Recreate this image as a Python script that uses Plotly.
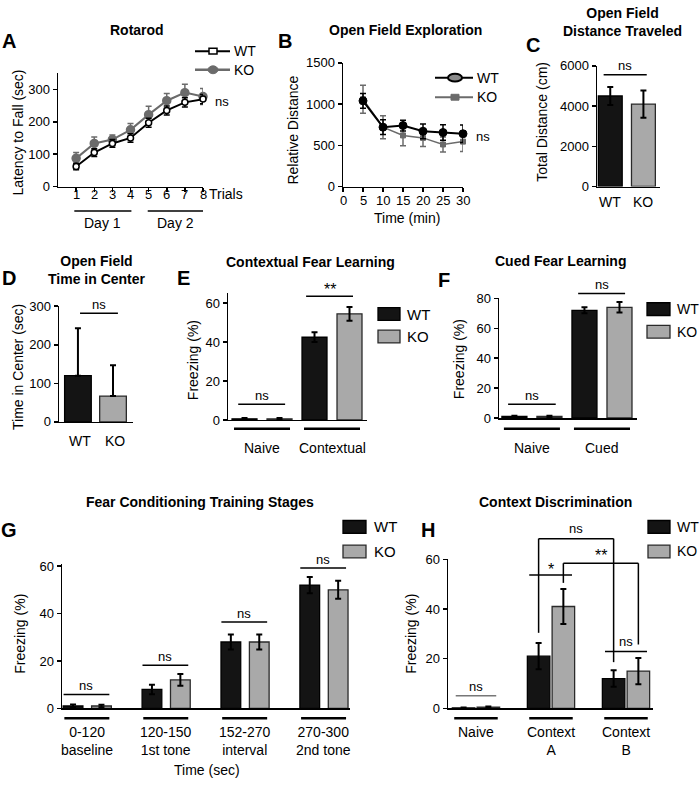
import plotly.graph_objects as go

W, H = 700, 787
FONT = "Liberation Sans, Arial, Helvetica, sans-serif"
WT_FILL = "#141414"
KO_FILL = "#a9a9a9"
KO_LINE = "#6b6b6b"

# ---------------- data ----------------
trials = [1, 2, 3, 4, 5, 6, 7, 8]
trial_labels = ["1", "2", "3", "4", "5", "6", "7", "8"]
rotarod_wt = [62, 105, 133, 150, 197, 235, 260, 270]
rotarod_wt_err = [10, 12, 12, 13, 14, 14, 14, 14]
rotarod_ko = [87, 133, 145, 175, 222, 265, 290, 278]
rotarod_ko_err = [18, 20, 14, 20, 26, 22, 26, 25]

of_minutes = [5, 10, 15, 20, 25, 30]
of_ticks = [0, 5, 10, 15, 20, 25, 30]
of_wt = [1040, 720, 740, 670, 655, 640]
of_wt_err = [90, 90, 65, 90, 95, 105]
of_ko = [1060, 720, 620, 590, 510, 545]
of_ko_err = [170, 140, 125, 105, 90, 120]

genotypes = ["WT", "KO"]
dist_mean = [4500, 4100]
dist_err = [450, 680]
center_mean = [120, 67]
center_err = [123, 80]

ctx_groups = ["Naive", "Contextual"]
ctx_wt = [0.6, 42.5]
ctx_wt_err = [0.4, 2.5]
ctx_ko = [0.6, 54.5]
ctx_ko_err = [0.4, 3.5]

cued_groups = ["Naive", "Cued"]
cued_wt = [1.0, 72]
cued_wt_err = [0.5, 2]
cued_ko = [1.0, 74]
cued_ko_err = [0.5, 3.5]

stage_groups = ["0-120<br>baseline", "120-150<br>1st tone", "152-270<br>interval", "270-300<br>2nd tone"]
stage_wt = [1, 8, 28, 52]
stage_wt_err = [0.6, 2, 3.2, 3.4]
stage_ko = [1, 12, 28, 50]
stage_ko_err = [0.5, 2.5, 3.2, 3.8]

disc_groups = ["Naive", "Context<br>A", "Context<br>B"]
disc_wt = [0.2, 21, 12]
disc_wt_err = [0.2, 5.3, 3.3]
disc_ko = [0.5, 41, 15]
disc_ko_err = [0.3, 7, 5.3]

# ---------------- geometry (pixels: left, right, top, bottom, xrange, yrange) ----------------
GEOM = {
    "A": (58, 203, 67.5, 183, [0, 8], [0, 350]),
    "B": (343, 463, 57, 183, [0, 30], [0, 1500]),
    "C": (597, 660, 60, 183, [-0.4, 1.5], [0, 6000]),
    "D": (59, 133, 305, 423, [-0.54, 1.57], [0, 300]),
    "E": (228, 367, 292, 421, [-0.486, 1.5], [0, 65]),
    "F": (499, 637, 297, 419, [-0.47, 1.5], [0, 80]),
    "G": (62, 350, 567.6, 715, [-0.32, 3.33], [0, 61]),
    "H": (448, 653, 563, 715, [-0.373, 2.36], [0, 60]),
}
IDS = {"A": "", "B": "2", "C": "3", "D": "4", "E": "5", "F": "6", "G": "7", "H": "8"}


def pxx(p, v):
    l, r, t, b, xr, yr = GEOM[p]
    return l + (v - xr[0]) / (xr[1] - xr[0]) * (r - l)


def pxy(p, v):
    l, r, t, b, xr, yr = GEOM[p]
    return b - (v - yr[0]) / (yr[1] - yr[0]) * (b - t)


fig = go.Figure()
shapes = []
annotations = []


def text(x, y, s, size=13, bold=False, angle=0, xanchor="center", yanchor="middle", color="black"):
    annotations.append(dict(
        x=x / W, y=1 - y / H, xref="paper", yref="paper",
        text=f"<b>{s}</b>" if bold else s, showarrow=False,
        font=dict(family=FONT, size=size, color=color),
        xanchor=xanchor, yanchor=yanchor, textangle=angle))


def seg(x0, y0, x1, y1, w=1.5, color="black"):
    shapes.append(dict(type="line", xref="paper", yref="paper",
                       x0=x0 / W, y0=1 - y0 / H, x1=x1 / W, y1=1 - y1 / H,
                       line=dict(color=color, width=w)))


def rect(x0, y0, x1, y1, fill, line="black", w=1.5):
    shapes.append(dict(type="rect", xref="paper", yref="paper",
                       x0=x0 / W, y0=1 - y0 / H, x1=x1 / W, y1=1 - y1 / H,
                       fillcolor=fill, line=dict(color=line, width=w)))


def circ(x0, y0, x1, y1, fill, line="black", w=1.5):
    shapes.append(dict(type="circle", xref="paper", yref="paper",
                       x0=x0 / W, y0=1 - y0 / H, x1=x1 / W, y1=1 - y1 / H,
                       fillcolor=fill, line=dict(color=line, width=w)))


def sig(p, x0, x1, y, s, color="black", size=13, off=9):
    X0, X1, Y = pxx(p, x0), pxx(p, x1), pxy(p, y)
    seg(X0, Y, X1, Y, 1.5, color)
    text((X0 + X1) / 2, Y - off, s, size=size)


def add_axes(p, xkw, ykw):
    l, r, t, b, xr, yr = GEOM[p]
    n = IDS[p]
    base = dict(showline=True, linecolor="black", linewidth=1.5, showgrid=False,
                zeroline=False, tickfont=dict(family=FONT, size=13, color="black"))
    xa = dict(base, domain=[l / W, r / W], range=xr, anchor="y" + n, fixedrange=True)
    xa.update(xkw)
    ya = dict(base, domain=[1 - b / H, 1 - t / H], range=yr, anchor="x" + n,
              ticks="outside", ticklen=4, tickwidth=1.5, tickcolor="black", fixedrange=True)
    ya.update(ykw)
    fig.update_layout(**{"xaxis" + n: xa, "yaxis" + n: ya})


def bar_pair(p, wt, wt_err, ko, ko_err, width, offset):
    n = IDS[p]
    idx = list(range(len(wt)))
    for vals, errs, sign, fill, lc in [(wt, wt_err, -1, WT_FILL, "black"), (ko, ko_err, 1, KO_FILL, "#2a2a2a")]:
        fig.add_trace(go.Bar(
            x=[i + sign * offset for i in idx], y=vals, width=width,
            marker=dict(color=fill, line=dict(color=lc, width=1.3)),
            error_y=dict(type="data", array=errs, color="black", thickness=2, width=3),
            xaxis="x" + n, yaxis="y" + n, showlegend=False))


# ---------------- Panel A: Rotarod ----------------
for vals, errs, col, mfill, msize in [
        (rotarod_ko, rotarod_ko_err, KO_LINE, KO_LINE, 8),
        (rotarod_wt, rotarod_wt_err, "black", "white", 6)]:
    fig.add_trace(go.Scatter(
        x=trials, y=vals, mode="lines+markers", cliponaxis=False,
        line=dict(color=col, width=2),
        marker=dict(symbol="circle", size=msize, color=mfill, line=dict(color=col, width=1.5)),
        error_y=dict(type="data", array=errs, color=col, thickness=1.5, width=3),
        xaxis="x", yaxis="y", showlegend=False))
add_axes("A",
         dict(tickvals=trials, showticklabels=False, ticks="outside", ticklen=4, tickwidth=1.5, tickcolor="black"),
         dict(tickvals=[0, 100, 200, 300]))
for t, lab in zip(trials, trial_labels):
    text(pxx("A", t), 191, lab, size=13)

# ---------------- Panel B: Open Field Exploration ----------------
for vals, errs, col, msym, msize, lw in [
        (of_ko, of_ko_err, KO_LINE, "square", 5, 1.5),
        (of_wt, of_wt_err, "black", "circle", 8, 2)]:
    fig.add_trace(go.Scatter(
        x=of_minutes, y=vals, mode="lines+markers", cliponaxis=False,
        line=dict(color=col, width=lw),
        marker=dict(symbol=msym, size=msize, color=col, line=dict(color=col, width=1)),
        error_y=dict(type="data", array=errs, color=col, thickness=1.5, width=3),
        xaxis="x2", yaxis="y2", showlegend=False))
add_axes("B",
         dict(tickvals=of_ticks, showticklabels=False, ticks="outside", ticklen=4, tickwidth=1.5, tickcolor="black"),
         dict(tickvals=[0, 500, 1000, 1500]))
for t in of_ticks:
    text(pxx("B", t), 197, str(t), size=13)

# ---------------- Panel C ----------------
fig.add_trace(go.Bar(x=[0, 1], y=dist_mean, width=0.72,
                     marker=dict(color=[WT_FILL, KO_FILL], line=dict(color=["black", "#2a2a2a"], width=1.3)),
                     error_y=dict(type="data", array=dist_err, color="black", thickness=2, width=3),
                     xaxis="x3", yaxis="y3", showlegend=False))
add_axes("C", dict(showticklabels=False, ticks=""), dict(tickvals=[0, 2000, 4000, 6000]))
for i, g in enumerate(genotypes):
    text(pxx("C", i), 199, g, size=14)

# ---------------- Panel D ----------------
fig.add_trace(go.Bar(x=[0, 1], y=center_mean, width=0.76,
                     marker=dict(color=[WT_FILL, KO_FILL], line=dict(color=["black", "#2a2a2a"], width=1.3)),
                     error_y=dict(type="data", symmetric=False, array=center_err, arrayminus=[0, 0],
                                  color="black", thickness=2, width=3),
                     xaxis="x4", yaxis="y4", showlegend=False))
add_axes("D", dict(showticklabels=False, ticks=""), dict(tickvals=[0, 100, 200, 300]))
for i, g in enumerate(genotypes):
    text(pxx("D", i) + 2, 442, g, size=14)

# ---------------- Panels E-H ----------------
bar_pair("E", ctx_wt, ctx_wt_err, ctx_ko, ctx_ko_err, 0.357, 0.25)
add_axes("E", dict(showticklabels=False, ticks=""), dict(tickvals=[0, 20, 40, 60]))
bar_pair("F", cued_wt, cued_wt_err, cued_ko, cued_ko_err, 0.357, 0.25)
add_axes("F", dict(showticklabels=False, ticks=""), dict(tickvals=[0, 20, 40, 60, 80]))
bar_pair("G", stage_wt, stage_wt_err, stage_ko, stage_ko_err, 0.25, 0.18)
add_axes("G", dict(showticklabels=False, ticks=""), dict(tickvals=[0, 20, 40, 60]))
bar_pair("H", disc_wt, disc_wt_err, disc_ko, disc_ko_err, 0.3, 0.165)
add_axes("H", dict(showticklabels=False, ticks=""), dict(tickvals=[0, 20, 40, 60]))

# ---------------- titles, letters, axis titles ----------------
for s, x, y in [("Rotarod", 137, 23), ("Open Field Exploration", 405, 23),
                ("Open Field<br>Distance Traveled", 622, 15), ("Open Field<br>Time in Center", 97, 268),
                ("Contextual Fear Learning", 310, 260), ("Cued Fear Learning", 560, 259),
                ("Fear Conditioning Training Stages", 200, 505), ("Context Discrimination", 555, 505)]:
    text(x, y, s, size=14, bold=True)
for s, x, y in [("A", 9, 35), ("B", 285, 35), ("C", 533, 39), ("D", 9, 276),
                ("E", 183, 276), ("F", 444, 278), ("G", 9, 533), ("H", 428, 533)]:
    text(x, y, s, size=20, bold=True)
for s, x, y in [("Latency to Fall (sec)", 18, 128), ("Relative Distance", 293, 126),
                ("Total Distance (cm)", 542, 117), ("Time in Center (sec)", 18, 367),
                ("Freezing (%)", 193, 360), ("Freezing (%)", 459, 359),
                ("Freezing (%)", 20, 639), ("Freezing (%)", 411, 639)]:
    text(x, y, s, size=14, angle=-90)
text(207, 191, "Trials", size=14, xanchor="left")
text(407, 215, "Time (min)", size=14)
text(207, 778, "Time (sec)", size=14)

# Day brackets in A
seg(pxx("A", 0.9), 208, pxx("A", 4.05), 208, 1.5)
seg(pxx("A", 4.95), 208, pxx("A", 8.0), 208, 1.5)
text((pxx("A", 0.9) + pxx("A", 4.05)) / 2, 220, "Day 1", size=14)
text((pxx("A", 4.95) + pxx("A", 8.0)) / 2, 220, "Day 2", size=14)
text(222, 96, "ns", size=13)
text(483, 132, "ns", size=13)

# ---------------- line legends ----------------
seg(195, 45, 230, 45, 2, "black")
rect(209, 42, 217, 48, "white", "black", 1.5)
seg(195, 64, 230, 64, 2.5, KO_LINE)
circ(208, 60, 218, 68, KO_LINE, KO_LINE, 1)
text(232, 45, "WT", size=14, xanchor="left")
text(232, 64, "KO", size=14, xanchor="left")

seg(435, 72, 473, 72, 2, "black")
circ(448, 68, 462, 76, "#8a8a8a", "black", 2)
seg(435, 92, 473, 92, 2, KO_LINE)
rect(451, 89, 459, 95, KO_LINE, KO_LINE, 1)
text(475, 72, "WT", size=14, xanchor="left")
text(475, 92, "KO", size=14, xanchor="left")

# ---------------- bar legends ----------------
for bx0, bx1, tx, yw, yk, fs in [(378, 400, 405, 313, 336, 15), (647, 670, 675, 308, 331, 14),
                                 (343, 366, 372, 530, 555, 15), (648, 670, 675, 530, 555, 14)]:
    rect(bx0, yw - 6.5, bx1, yw + 6.5, WT_FILL, "black", 1.3)
    rect(bx0, yk - 6.5, bx1, yk + 6.5, KO_FILL, "#2a2a2a", 1.3)
    text(tx, yw, "WT", size=fs, xanchor="left")
    text(tx, yk, "KO", size=fs, xanchor="left")

# ---------------- significance marks ----------------
sig("C", -0.2, 1.1, 5560, "ns")
sig("D", 0.06, 1.14, 282, "ns")
sig("E", -0.34, 0.33, 8.1, "ns")
sig("E", 0.63, 1.3, 63.5, "**", size=16, off=7)
sig("F", -0.34, 0.34, 9.2, "ns")
sig("F", 0.66, 1.33, 83.3, "ns")
for i, yv in enumerate([5.8, 18.2, 36.4, 59.2]):
    sig("G", i - 0.3, i + 0.28, yv, "ns")
sig("H", -0.27, 0.27, 5.1, "ns", color="#777777")
sig("H", 1.72, 2.28, 22.9, "ns", off=10)
sig("H", 0.71, 1.28, 53.7, "*", size=16, off=6)


def bracket(p, pts, s, size, off):
    P = [(pxx(p, x), pxy(p, y)) for x, y in pts]
    for (x0, y0), (x1, y1) in zip(P[:-1], P[1:]):
        seg(x0, y0, x1, y1, 1.5)
    text((P[1][0] + P[2][0]) / 2, P[1][1] - off, s, size=size)


bracket("H", [(1 - 0.165, 30.4), (1 - 0.165, 68.3), (2 - 0.165, 68.3), (2 - 0.165, 18.6)], "ns", 13, 10)
bracket("H", [(1 + 0.165, 50.5), (1 + 0.165, 58.4), (2 + 0.165, 58.4), (2 + 0.165, 25.7)], "**", 16, 8)


# ---------------- group underlines and labels ----------------
def group_labels(p, groups, a, b, yline, ytop):
    for i, g in enumerate(groups):
        seg(pxx(p, i - a), yline, pxx(p, i + b), yline, 2.5)
        text(pxx(p, i), ytop, g, size=14, yanchor="top")


group_labels("E", ctx_groups, 0.4, 0.4, 430, 439)
group_labels("F", cued_groups, 0.4, 0.4, 430, 439)
group_labels("G", stage_groups, 0.29, 0.28, 725, 729)
group_labels("H", disc_groups, 0.29, 0.29, 725, 729)

fig.update_layout(width=W, height=H, margin=dict(l=0, r=0, t=0, b=0),
                  plot_bgcolor="white", paper_bgcolor="white", showlegend=False,
                  barmode="overlay", shapes=shapes, annotations=annotations,
                  font=dict(family=FONT, color="black"))
fig.write_html("out.html", config={"displayModeBar": False, "staticPlot": True},
               post_script="document.body.style.margin='0px';document.body.style.overflow='hidden';")
